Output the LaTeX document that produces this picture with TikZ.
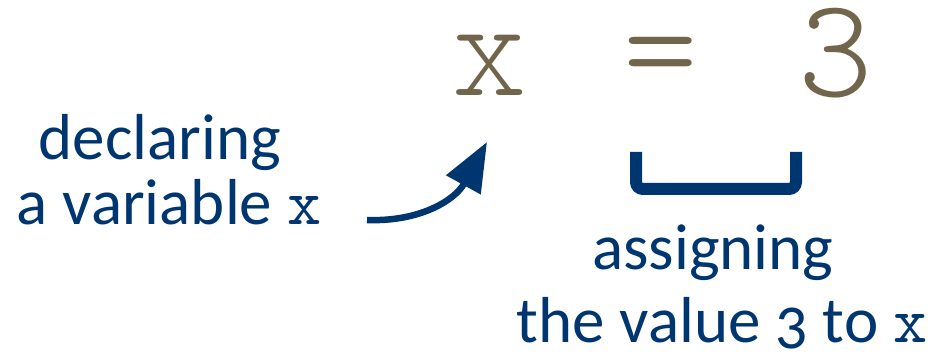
\documentclass[tikz,border=0pt]{standalone}
\usepackage{fontspec}
\setmainfont{Carlito}[Numbers=OldStyle]
\newfontfamily\codefont{lmmonolt10-regular.otf}
\newfontfamily\codefontreg{lmmono10-regular.otf}
\usetikzlibrary{arrows.meta}
\definecolor{navy}{RGB}{0,54,112}
\definecolor{codebrown}{RGB}{113,102,75}
\begin{document}
\begin{tikzpicture}[x=1pt,y=-1pt,
  code/.style={inner sep=0pt, anchor=base, text height=88pt, text depth=0pt, text=codebrown, font=\fontsize{142}{142}\selectfont\codefont},
  label/.style={inner sep=0pt, anchor=base, text=navy, font=\fontsize{65}{65}\selectfont},
  pointer/.style={draw=navy, line width=6.5pt, -{Triangle[length=49pt,width=38pt]}},
  brace/.style={draw=navy, line width=12pt, rounded corners=7pt}]
\useasboundingbox (0,0) rectangle (930,358);
% code
\node[code] (cx) at (490,96) {x};
\node[code] (ceq) at (661,96) {=};
\node[code] (cthree) at (836,97) {3};
% labels
\node[label] (decl1) at (160,160) {declaring};
\node[label] (decl2) at (169,225) {a variable {\codefontreg x}};
\node[label] (assign1) at (713,270) {assigning};
\node[label] (assign2) at (722,343) {the value 3 to {\codefontreg x}};
% arrow
\coordinate (arrS) at (367,220);
\coordinate (arrT) at (487,142);
\draw[pointer] (arrS) .. controls (420,222) and (455,200) .. (arrT);
% bracket under value
\draw[brace] (636,152) -- (636,189) -- (796,189) -- (796,152);
\end{tikzpicture}
\end{document}
